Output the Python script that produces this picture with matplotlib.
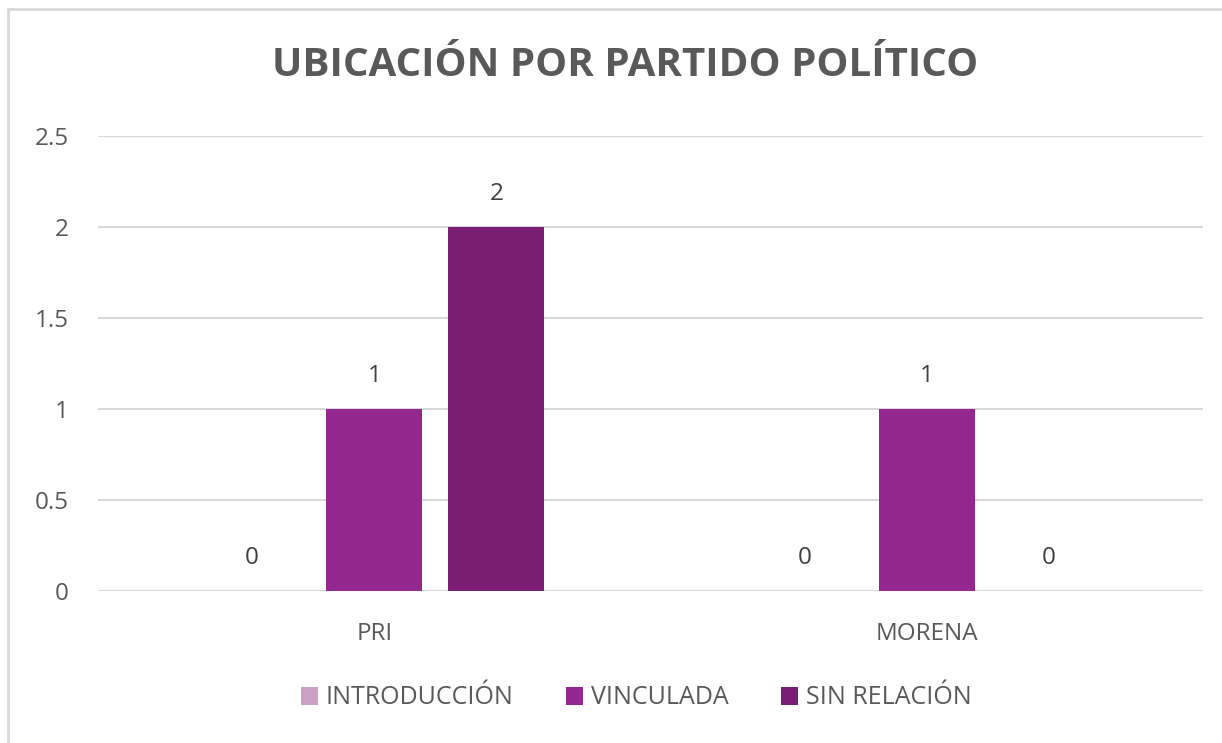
import matplotlib.pyplot as plt
import numpy as np
from matplotlib.patches import Rectangle

# data
partidos = ["PRI", "MORENA"]
series = ["INTRODUCCIÓN", "VINCULADA", "SIN RELACIÓN"]
introduccion = [0, 0]
vinculada = [1, 1]
sin_relacion = [2, 0]
colores = ["#C9A0C6", "#92278F", "#7A1E73"]

plt.rcParams['font.family'] = ['Open Sans', 'DejaVu Sans']
gris = "#595959"

fig = plt.figure(figsize=(12.22, 7.43), dpi=100)
ax = fig.add_axes([98/1222, 152/743, 1105/1222, 455/743])

x = np.arange(len(partidos))
ancho = 0.174
paso = 0.221
valores = [introduccion, vinculada, sin_relacion]
for i, (nombre, vals) in enumerate(zip(series, valores)):
    pos = x + (i - 1) * paso
    ax.bar(pos, vals, ancho, color=colores[i], label=nombre, zorder=3)
    for p, v in zip(pos, vals):
        ax.annotate(str(v), (p, v), xytext=(0, 24), textcoords="offset points",
                    ha="center", va="center", fontsize=17.5, color="#404040")

ax.set_xlim(-0.5, 1.5)
ax.set_ylim(0, 2.5)
ax.set_yticks([0, 0.5, 1, 1.5, 2, 2.5])
ax.set_yticklabels(["0", "0.5", "1", "1.5", "2", "2.5"])
ax.set_xticks(x)
ax.set_xticklabels(partidos)
ax.tick_params(axis="both", length=0, labelsize=17.5, labelcolor=gris)
ax.tick_params(axis="x", pad=22)
ax.tick_params(axis="y", pad=21)
ax.grid(axis="y", color="#D9D9D9", linewidth=1.5, zorder=0)
for s in ax.spines.values():
    s.set_visible(False)

fig.text(625/1222, 1 - 65/743, "UBICACIÓN POR PARTIDO POLÍTICO", ha="center", va="center",
         fontsize=29, fontweight="bold", color=gris)

fig.legend(loc="center", bbox_to_anchor=(636/1222, 1 - 698/743), ncol=3, frameon=False,
           fontsize=18, labelcolor=gris, handlelength=0.7, handleheight=0.7,
           handletextpad=0.3, columnspacing=2.1)

fig.patches.append(Rectangle((8/1222, -0.1), 1.2, 1 - 9/743 + 0.1, transform=fig.transFigure,
                             fill=False, edgecolor="#D9D9D9", linewidth=2))

fig.savefig("out.png", dpi=100)
